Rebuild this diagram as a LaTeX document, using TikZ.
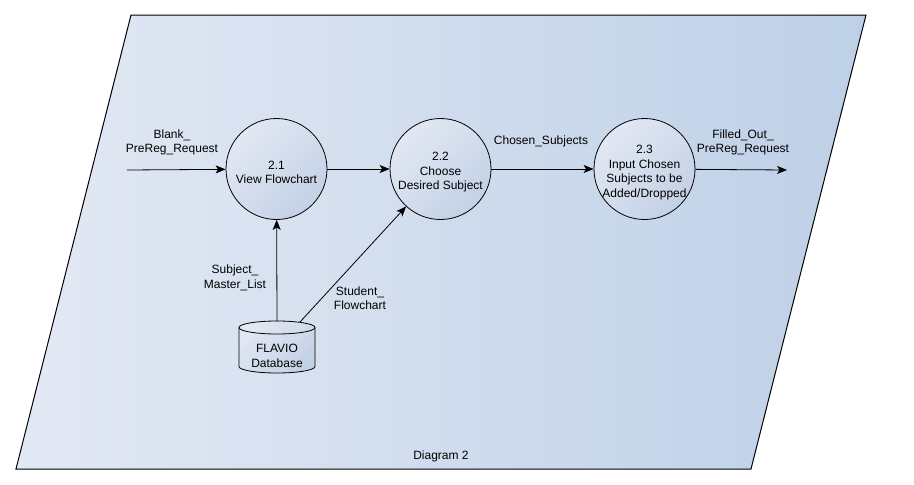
\documentclass[tikz,border=0pt]{standalone}
\usepackage{fontspec}
\setmainfont{Liberation Sans}
\usetikzlibrary{arrows.meta,calc}
\definecolor{bgL}{HTML}{E3E9F4}
\definecolor{bgR}{HTML}{BED0E7}
\definecolor{shL}{HTML}{E2E8F3}
\definecolor{shR}{HTML}{C3D1E6}
\tikzset{
  frame/.style={draw=black, line width=1pt, left color=bgL, right color=bgR},
  proc/.style={circle, draw=black, line width=0.8pt, minimum size=101pt, inner sep=0pt,
    top color=shL, bottom color=shR, shading angle=45},
  storeline/.style={draw=black, line width=0.8pt},
  storefill/.style={top color=shL, bottom color=shR, shading angle=45},
  flow/.style={draw=black, line width=0.8pt, -{Stealth[length=10pt,width=8pt,inset=2.5pt]}},
  lbl/.style={align=center, inner sep=1pt}
}
\begin{document}
\begin{tikzpicture}[x=1pt,y=-1pt,font=\fontsize{12}{14.5}\selectfont]
\useasboundingbox (0,0) rectangle (914,485);
% outer context boundary
\path[frame] (131,15) -- (866,15) -- (751,469) -- (16,469) -- cycle;

% processes
\node[proc] (p21) at (276.5,169) {};
\node[proc] (p22) at (440.5,169) {};
\node[proc] (p23) at (644.5,169) {};
\node[lbl] (t21) at ($(p21)+(0,3.5)$) {2.1\\View Flowchart};
\node[lbl] (t22) at ($(p22)+(0,3.5)$) {2.2\\Choose\\Desired Subject};
\node[lbl] (t23) at ($(p23)+(0,3.5)$) {2.3\\Input Chosen\\Subjects to be\\Added/Dropped};

% data store: cylinder, top cap centred at y=327.5, bottom at y=366.5
\path[storefill] (239,327.5) -- (239,366.5)
  arc[start angle=180, end angle=0, x radius=38, y radius=6.5]
  -- (315,327.5)
  arc[start angle=0, end angle=-180, x radius=38, y radius=6.5] -- cycle;
\draw[storeline] (239,327.5) -- (239,366.5)
  arc[start angle=180, end angle=0, x radius=38, y radius=6.5]
  -- (315,327.5);
\draw[storeline] (277,327.5) ellipse[x radius=38, y radius=6.5];
\node[lbl] (db) at (277,356) {FLAVIO\\Database};

% free ends of the outer flows and the store's top cap
\coordinate (inL) at (127,170);
\coordinate (outR) at (787,170);
\coordinate (dbA) at (277,321.5);
\coordinate (dbB) at (300,322);

% data flows
\draw[flow] (inL) -- (p21);
\draw[flow] (p21) -- (p22);
\draw[flow] (p22) -- (p23);
\draw[flow] (p23) -- (outR);
\draw[flow] (dbA) -- (p21);
\draw[flow] (dbB) -- (p22);

% flow labels
\node[lbl] (lblank) at (172,142.5) {Blank\_\\PreReg\_Request};
\node[lbl] (lchosen) at (541,141) {Chosen\_Subjects};
\node[lbl] (lfilled) at (743,142.5) {Filled\_Out\_\\PreReg\_Request};
\node[lbl] (lmaster) at (235,278) {Subject\_\\Master\_List};
\node[lbl] (lstudent) at (360,298) {Student\_\\Flowchart};
\node[lbl] (ldiag) at (441,456) {Diagram 2};
\end{tikzpicture}
\end{document}
